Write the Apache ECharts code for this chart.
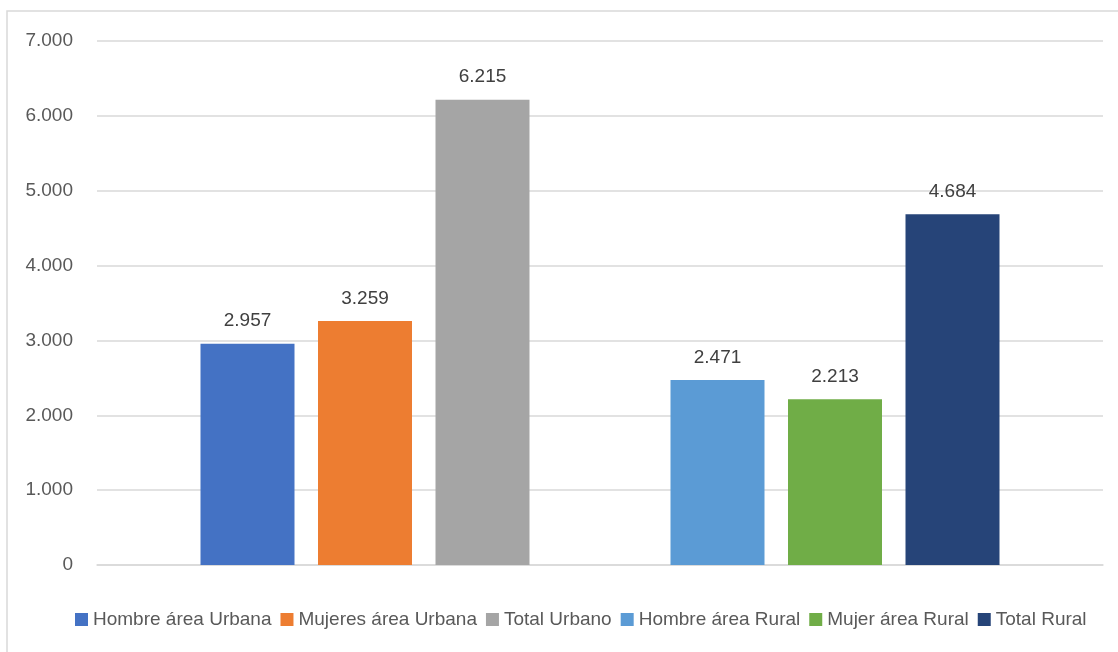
<!DOCTYPE html>
<html>
<head>
<meta charset="utf-8">
<script src="https://cdn.jsdelivr.net/npm/echarts@6/dist/echarts.min.js"></script>
<style>
  html, body { margin: 0; padding: 0; background: #fff; }
  #chart { width: 1118px; height: 652px; }
</style>
</head>
<body>
<div id="chart"></div>
<script>
// datos del grafico
const seriesNames = ['Hombre área Urbana', 'Mujeres área Urbana', 'Total Urbano', 'Hombre área Rural', 'Mujer área Rural', 'Total Rural'];
const seriesValues = [2957, 3259, 6215, 2471, 2213, 4684];
const seriesColors = ['#4472C4', '#ED7D31', '#A5A5A5', '#5B9BD5', '#70AD47', '#264478'];
const yTicks = [0, 1000, 2000, 3000, 4000, 5000, 6000, 7000];

const fontFam = '"Liberation Sans Narrow", "Arial Narrow", "Liberation Sans", sans-serif';
const fmt = v => String(v).replace(/\B(?=(\d{3})+(?!\d))/g, '.');

var chart = echarts.init(document.getElementById('chart'));

var series = [];
seriesNames.forEach(function (name, i) {
    series.push({
        name: name,
        type: 'bar',
        barWidth: 94,
        barGap: '25%',
        itemStyle: { color: seriesColors[i] },
        label: {
            show: true,
            position: 'top',
            distance: 13,
            color: '#404040',
            fontSize: 19,
            fontFamily: fontFam,
            formatter: p => fmt(p.value)
        },
        data: [seriesValues[i]]
    });
    // hueco entre urbano y rural
    if (i === 2) {
        series.push({ name: '_hueco', type: 'bar', barWidth: 94, data: ['-'] });
    }
});

var option = {
    animation: false,
    graphic: [{
        type: 'rect',
        shape: { x: 7, y: 11, width: 1200, height: 700 },
        style: { fill: 'none', stroke: '#d9d9d9', lineWidth: 1.5 },
        silent: true
    }],
    grid: { left: 97, right: 15, top: 41, bottom: 87 },
    legend: {
        data: seriesNames,
        bottom: 18,
        left: 70,
        itemWidth: 13,
        itemHeight: 13,
        itemGap: 9,
        icon: 'rect',
        textStyle: { color: '#595959', fontSize: 19, fontFamily: fontFam }
    },
    xAxis: {
        type: 'category',
        data: [''],
        axisLine: { lineStyle: { color: '#d9d9d9', width: 1.5 } },
        axisTick: { show: false },
        axisLabel: { show: false }
    },
    yAxis: {
        type: 'value',
        min: yTicks[0],
        max: yTicks[yTicks.length - 1],
        interval: 1000,
        axisLine: { show: false },
        axisTick: { show: false },
        splitLine: { lineStyle: { color: '#d9d9d9', width: 1.5 } },
        axisLabel: {
            margin: 24,
            color: '#595959',
            fontSize: 19,
            fontFamily: fontFam,
            formatter: v => fmt(v)
        }
    },
    series: series
};

chart.setOption(option);
</script>
</body>
</html>
